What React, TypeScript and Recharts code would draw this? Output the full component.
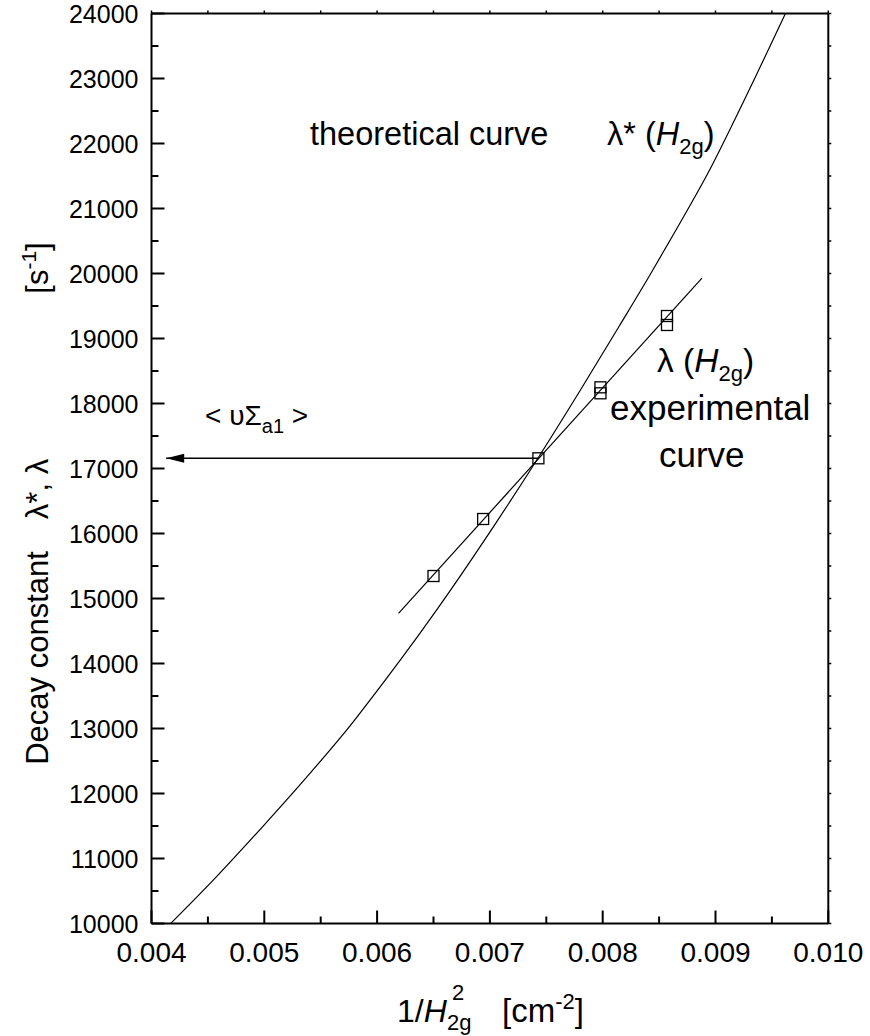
import React from 'react';
import { ComposedChart, Line, Scatter, XAxis, YAxis } from 'recharts';

const xMajorTicks = [0.004, 0.005, 0.006, 0.007, 0.008, 0.009, 0.01];
const xMinorTicks = [0.0045, 0.0055, 0.0065, 0.0075, 0.0085, 0.0095];
const xTickLabels = ['0.004', '0.005', '0.006', '0.007', '0.008', '0.009', '0.010'];
const yMajorTicks = [10000, 11000, 12000, 13000, 14000, 15000, 16000, 17000, 18000, 19000, 20000, 21000, 22000, 23000, 24000];
const yMinorTicks = [10500, 11500, 12500, 13500, 14500, 15500, 16500, 17500, 18500, 19500, 20500, 21500, 22500, 23500];

// theoretical curve lambda*(H2g)
const theoX = [0.00417, 0.00456, 0.00498, 0.00542, 0.00576, 0.006, 0.0062, 0.00653, 0.00706, 0.00743, 0.0078, 0.00815, 0.00842, 0.00866, 0.00895, 0.00925, 0.00962];
const theoY = [10000, 10690, 11480, 12340, 13040, 13580, 14040, 14830, 16180, 17170, 18200, 19200, 19980, 20700, 21600, 22650, 24000];

// experimental fit line lambda(H2g)
const fitX = [0.00619, 0.00888];
const fitY = [14770, 19930];

// measured points
const expX = [0.0065, 0.00694, 0.00743, 0.00798, 0.00798, 0.00857, 0.00857];
const expY = [15346, 16223, 17157, 18249, 18157, 19346, 19208];

// <v Sigma_a1> arrow
const arrowX = [0.00743, 0.00413];
const arrowY = [17157, 17157];

const FONT = '"Liberation Sans", Arial, Helvetica, sans-serif';

const toPts = (xs: number[], ys: number[]) => xs.map((x, i) => ({ x, y: ys[i] }));
const theoData = toPts(theoX, theoY);
const fitData = toPts(fitX, fitY);
const expData = toPts(expX, expY);
const arrowData = toPts(arrowX, arrowY);

const near = (a: number, b: number) => Math.abs(a - b) < 1e-9;

const BottomTick = (props: any) => {
  const { x, y, payload } = props;
  const i = xMajorTicks.findIndex((t) => near(t, payload.value));
  const major = i >= 0;
  return (
    <g>
      <line x1={x} x2={x} y1={y} y2={y - (major ? 13 : 7)} stroke="#000" strokeWidth={2} />
      {major && (
        <text x={x} y={y + 38} textAnchor="middle" fontSize={28} fontFamily={FONT} fill="#000">
          {xTickLabels[i]}
        </text>
      )}
    </g>
  );
};

const LeftTick = (props: any) => {
  const { x, y, payload } = props;
  const major = yMajorTicks.some((t) => t === payload.value);
  return (
    <g>
      <line x1={x} x2={x + (major ? 13 : 7)} y1={y} y2={y} stroke="#000" strokeWidth={2} />
      {major && (
        <text x={x - 13} y={y + 9} textAnchor="end" fontSize={25} fontFamily={FONT} fill="#000">
          {payload.value}
        </text>
      )}
    </g>
  );
};

const TopTick = (props: any) => {
  const { x, y } = props;
  return <line x1={x} x2={x} y1={y} y2={y - 3} stroke="#000" strokeWidth={1.5} />;
};

const RightTick = (props: any) => {
  const { x, y } = props;
  return <line x1={x} x2={x + 3} y1={y} y2={y} stroke="#000" strokeWidth={1.5} />;
};

const SquareDot = (props: any) => {
  const { cx, cy } = props;
  return <rect x={cx - 5.5} y={cy - 5.5} width={11} height={11} fill="none" stroke="#000" strokeWidth={1.3} />;
};

const ArrowHead = (props: any) => {
  const { cx, cy, index } = props;
  if (index !== 1) return <g key={`a${index}`} />;
  return <path key={`a${index}`} d={`M${cx},${cy} L${cx + 18},${cy - 4.5} L${cx + 18},${cy + 4.5} Z`} fill="#000" />;
};

const allX = [...xMajorTicks, ...xMinorTicks].sort((a, b) => a - b);
const allY = [...yMajorTicks, ...yMinorTicks].sort((a, b) => a - b);

export default function App() {
  const W = 870;
  const H = 1036;
  const txt = { fontFamily: FONT, fill: '#000' };
  return (
    <div style={{ position: 'absolute', left: 0, top: 0, width: W, height: H }}>
      <ComposedChart width={W} height={H} margin={{ top: 12.5, right: 40.7, bottom: 111.5, left: 150.5 }}>
        <XAxis
          type="number"
          dataKey="x"
          domain={[0.004, 0.01]}
          ticks={allX}
          interval={0}
          height={1}
          tickSize={0}
          tickMargin={0}
          tickLine={false}
          axisLine={{ stroke: '#000', strokeWidth: 2 }}
          tick={<BottomTick />}
          allowDataOverflow
        />
        <XAxis
          xAxisId="top"
          orientation="top"
          type="number"
          dataKey="x"
          domain={[0.004, 0.01]}
          ticks={allX}
          interval={0}
          height={1}
          tickSize={0}
          tickMargin={0}
          tickLine={false}
          axisLine={{ stroke: '#000', strokeWidth: 2 }}
          tick={<TopTick />}
          allowDataOverflow
        />
        <YAxis
          type="number"
          domain={[10000, 24000]}
          ticks={allY}
          interval={0}
          width={1}
          tickSize={0}
          tickMargin={0}
          tickLine={false}
          axisLine={{ stroke: '#000', strokeWidth: 2 }}
          tick={<LeftTick />}
          allowDataOverflow
        />
        <YAxis
          yAxisId="right"
          orientation="right"
          type="number"
          domain={[10000, 24000]}
          ticks={allY}
          interval={0}
          width={1}
          tickSize={0}
          tickMargin={0}
          tickLine={false}
          axisLine={{ stroke: '#000', strokeWidth: 2 }}
          tick={<RightTick />}
          allowDataOverflow
        />
        <Line
          data={theoData}
          dataKey="y"
          type="monotone"
          stroke="#000"
          strokeWidth={1.2}
          dot={false}
          isAnimationActive={false}
        />
        <Line
          data={fitData}
          dataKey="y"
          type="linear"
          stroke="#000"
          strokeWidth={1.2}
          dot={false}
          isAnimationActive={false}
        />
        <Line
          data={arrowData}
          dataKey="y"
          type="linear"
          stroke="#000"
          strokeWidth={1.5}
          dot={<ArrowHead />}
          isAnimationActive={false}
        />
        <Scatter data={expData} dataKey="y" shape={<SquareDot />} isAnimationActive={false} />
      </ComposedChart>
      <svg width={W} height={H} style={{ position: 'absolute', left: 0, top: 0, pointerEvents: 'none' }}>
        <text x={310} y={145} fontSize={32.5} {...txt}>theoretical curve</text>
        <text x={607} y={145} fontSize={32.5} {...txt}>
          λ* (<tspan fontStyle="italic">H</tspan>
          <tspan fontSize={22} dy={9}>2g</tspan>
          <tspan dy={-9}>)</tspan>
        </text>
        <text x={205} y={425} fontSize={28} {...txt}>
          &lt; υΣ<tspan fontSize={20} dy={8}>a1</tspan>
          <tspan dy={-8}> &gt;</tspan>
        </text>
        <text x={657} y={372} fontSize={33.5} {...txt}>
          λ (<tspan fontStyle="italic">H</tspan>
          <tspan fontSize={22} dy={9}>2g</tspan>
          <tspan dy={-9}>)</tspan>
        </text>
        <text x={610} y={420} fontSize={35} {...txt}>experimental</text>
        <text x={659} y={467} fontSize={35} {...txt}>curve</text>
        <text transform="rotate(-90 48 658)" x={48} y={658} textAnchor="middle" fontSize={31} {...txt}>Decay constant</text>
        <text transform="rotate(-90 48 489)" x={48} y={489} textAnchor="middle" fontSize={31} {...txt}>λ*,  λ</text>
        <text transform="rotate(-90 48 268)" x={48} y={268} textAnchor="middle" fontSize={31} {...txt}>
          [s<tspan fontSize={21} dy={-12}>-1</tspan>
          <tspan dy={12}>]</tspan>
        </text>
        <text x={397} y={1022} fontSize={32} {...txt}>
          1/<tspan fontStyle="italic">H</tspan>
        </text>
        <text x={452} y={1000} fontSize={22} {...txt}>2</text>
        <text x={447} y={1030} fontSize={22} {...txt}>2g</text>
        <text x={502} y={1022} fontSize={33} {...txt}>
          [cm<tspan fontSize={22} dy={-13}>-2</tspan>
          <tspan dy={13}>]</tspan>
        </text>
      </svg>
    </div>
  );
}
